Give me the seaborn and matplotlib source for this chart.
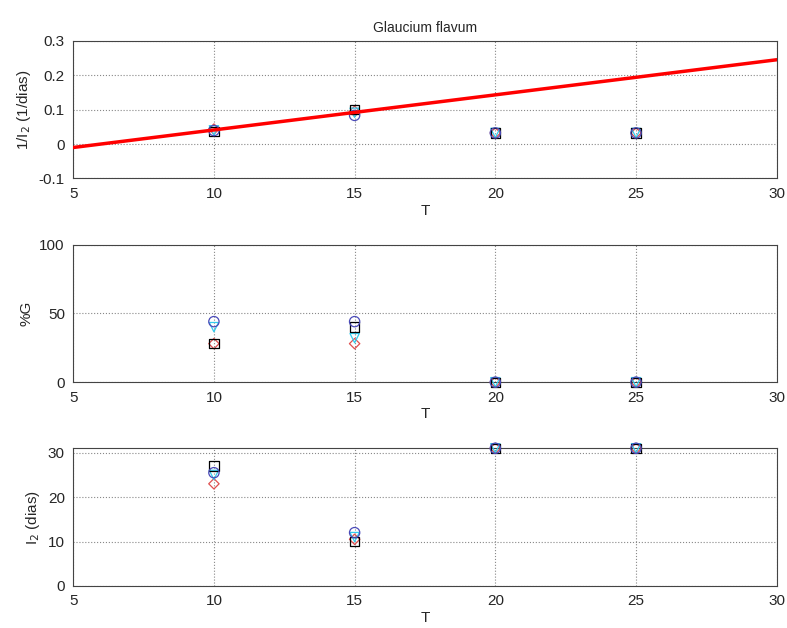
import numpy as np
import pandas as pd
import matplotlib
matplotlib.use("Agg")
import matplotlib.pyplot as plt
import seaborn as sns

sns.set_style("white")
plt.rcParams['font.family'] = ['Liberation Sans', 'DejaVu Sans']

# temperatures
T = [10, 15, 20, 25]

# I2 (dias) per series
i2_sq = [27, 10, 31, 31]
i2_ci = [25.5, 12, 31, 31]
i2_tr = [25, 11, 31, 31]
i2_di = [23, 10.5, 31, 31]

# %G per series
g_sq = [28, 40, 0, 0]
g_ci = [44, 44, 0, 0]
g_tr = [40, 32, 0, 0]
g_di = [28, 28, 0, 0]

# fitted line for 1/I2
fit_T = [5, 30]
fit_y = [-0.01, 0.245]

# (marker, color, size)
series = [
    ("D", "#e05050", 28, i2_di, g_di),
    ("v", "#33ccee", 45, i2_tr, g_tr),
    ("s", "black", 45, i2_sq, g_sq),
    ("o", "#4a4ab8", 55, i2_ci, g_ci),
]

fig, axes = plt.subplots(3, 1, figsize=(7.87, 6.28), dpi=100)
fig.subplots_adjust(left=0.093, right=0.987, top=0.935, bottom=0.067, hspace=0.48)

for marker, color, size, i2, g in series:
    inv = 1.0 / np.array(i2)
    sns.scatterplot(x=T, y=inv, ax=axes[0], marker=marker, s=size,
                    facecolors="none", edgecolor=color, linewidth=0.9, zorder=3)
    sns.scatterplot(x=T, y=g, ax=axes[1], marker=marker, s=size,
                    facecolors="none", edgecolor=color, linewidth=0.9, zorder=3, clip_on=False)
    sns.scatterplot(x=T, y=i2, ax=axes[2], marker=marker, s=size,
                    facecolors="none", edgecolor=color, linewidth=0.9, zorder=3, clip_on=False)

sns.lineplot(x=fit_T, y=fit_y, ax=axes[0], color="red", linewidth=2.5, zorder=4)

axes[0].set_ylim(-0.1, 0.3)
axes[0].set_yticks([-0.1, 0, 0.1, 0.2, 0.3])
axes[0].set_yticklabels(["-0.1", "0", "0.1", "0.2", "0.3"])
axes[0].set_ylabel("1/I$_2$ (1/dias)")
axes[0].set_title("Glaucium flavum", fontsize=10)

axes[1].set_ylim(0, 100)
axes[1].set_yticks([0, 50, 100])
axes[1].set_ylabel("%G")

axes[2].set_ylim(0, 31)
axes[2].set_yticks([0, 10, 20, 30])
axes[2].set_ylabel("I$_2$ (dias)")

for ax in axes:
    ax.set_xlim(5, 30)
    ax.set_xticks([5, 10, 15, 20, 25, 30])
    ax.set_xlabel("T", fontsize=11, labelpad=2)
    ax.yaxis.label.set_size(11)
    ax.grid(True, linestyle=":", color="#888888", linewidth=0.8)
    ax.tick_params(direction="in", labelsize=11, length=4, pad=6)
    for sp in ax.spines.values():
        sp.set_color("#444444")
        sp.set_linewidth(0.8)
    if ax.get_legend():
        ax.get_legend().remove()

plt.savefig("out.png", dpi=100)
